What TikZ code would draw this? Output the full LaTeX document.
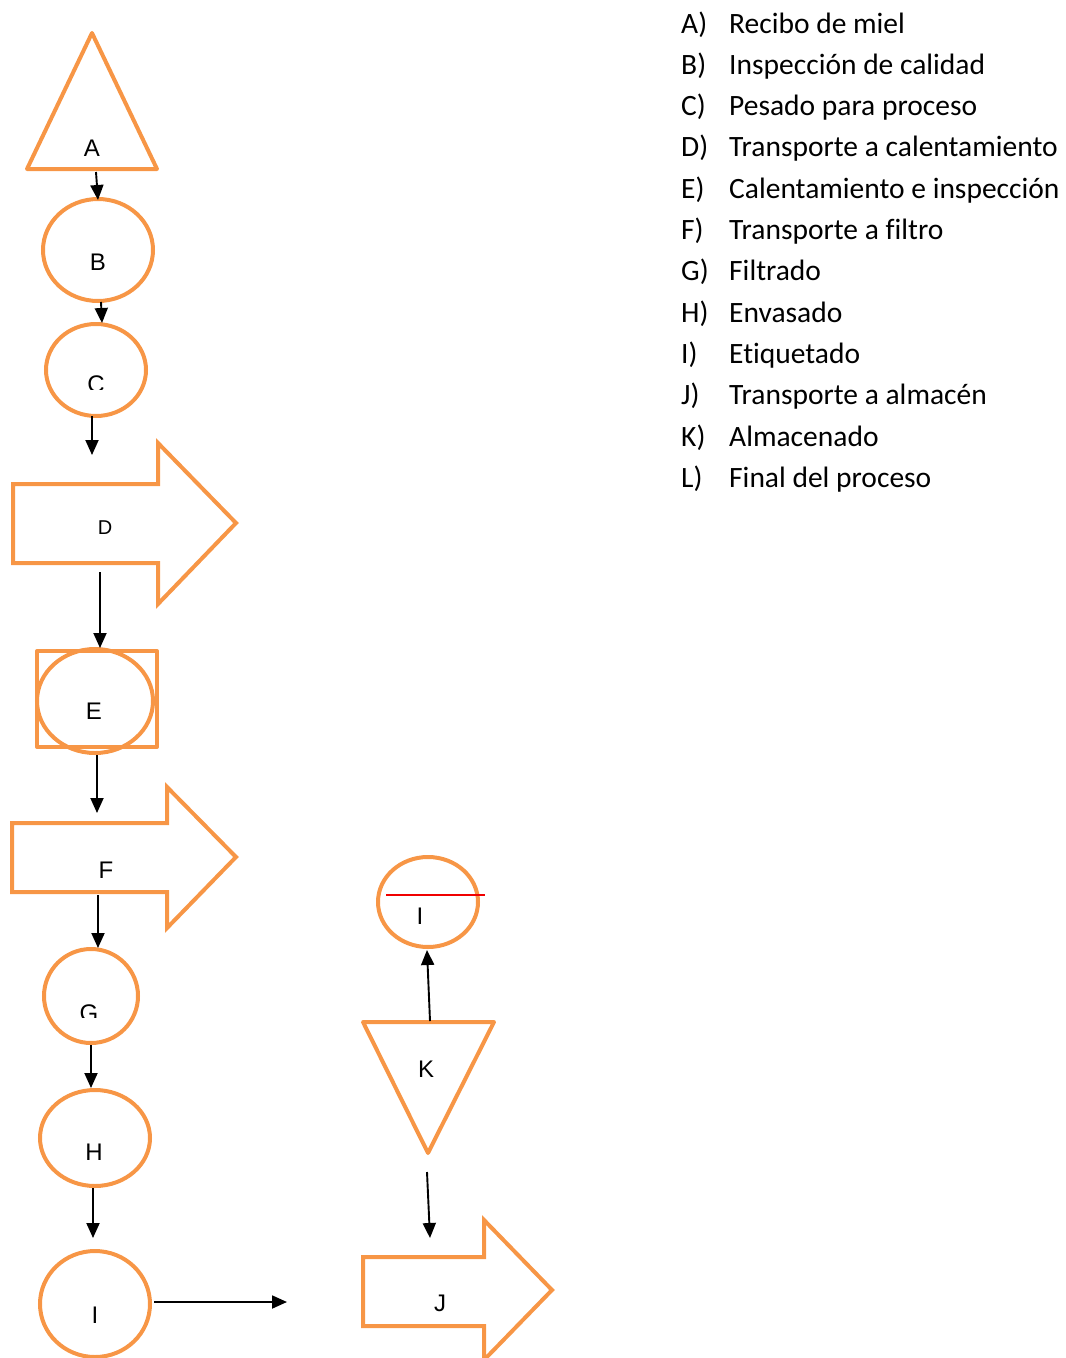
\documentclass[tikz,border=0pt]{standalone}
\usepackage{fontspec}
\setmainfont{Liberation Sans}
\newfontfamily\legendfont{Carlito}[Ligatures={NoCommon}]
\usetikzlibrary{arrows.meta,shapes.geometric}
\definecolor{orng}{RGB}{247,150,70}
\definecolor{redline}{RGB}{240,0,0}
\begin{document}
\begin{tikzpicture}[x=1pt,y=-1pt,
  shp/.style={draw=orng, line width=4pt, line join=round},
  circ/.style={ellipse, draw=orng, line width=4pt, inner sep=0pt},
  lbl/.style={font=\fontsize{24}{27}\selectfont, inner sep=0pt},
  conn/.style={draw=black, line width=1.9pt, -{Triangle[length=15pt,width=13pt]}},
  leg/.style={font=\legendfont\fontsize{29.5}{32}\selectfont, anchor=base west, inner sep=0pt}]
\useasboundingbox (0,0) rectangle (1066,1358);

% A triangle
\draw[shp] (27,169) -- (92,33) -- (157,169) -- cycle;
\node[lbl] (At) at (92,148) {A};
\coordinate (Abot) at (96,172);

% B circle
\node[circ, minimum width=110pt, minimum height=102pt] (B) at (98,250) {};
\node[lbl] (Bt) at (98,262) {B};

% C circle
\node[circ, minimum width=100pt, minimum height=92pt] (C) at (96,370) {};
\begin{scope}
  \clip (60,360) rectangle (130,389);
  \node[lbl] (Ct) at (96,384) {C};
\end{scope}
\coordinate (Cend) at (92,455);

% D block arrow
\draw[shp, line join=miter] (13,484) -- (158,484) -- (158,443) -- (236,523) -- (158,604) -- (158,563) -- (13,563) -- cycle;
\node[lbl, font=\fontsize{20}{24}\selectfont] (Dt) at (105,528) {D};
\coordinate (Dstart) at (100,572);

% E square + circle
\draw[shp] (37,651) rectangle (157,747);
\node[circ, minimum width=116pt, minimum height=104pt] (E) at (95,701) {};
\node[lbl] (Et) at (94,711) {E};

% F block arrow
\draw[shp, line join=miter] (12,823) -- (167,823) -- (167,787) -- (236,857) -- (167,928) -- (167,892) -- (12,892) -- cycle;
\node[lbl] (Ft) at (106,870) {F};
\coordinate (Ftop) at (97,813);
\coordinate (Fbot) at (98,895);

% G circle
\node[circ, minimum width=94pt, minimum height=94pt] (G) at (91,996) {};
\begin{scope}
  \clip (60,990) rectangle (130,1017);
  \node[lbl] (Gt) at (89,1013) {G};
\end{scope}

% H circle
\node[circ, minimum width=110pt, minimum height=96pt] (H) at (95,1138) {};
\node[lbl] (Ht) at (94,1152) {H};

% I circle (bottom)
\node[circ, minimum width=110pt, minimum height=106pt] (I1) at (95,1304) {};
\node[lbl] (I1t) at (95,1315) {I};
\coordinate (Iend) at (287,1302);

% J block arrow
\draw[shp, line join=miter] (363,1257) -- (484,1257) -- (484,1220) -- (552,1290) -- (484,1360) -- (484,1326) -- (363,1326) -- cycle;
\node[lbl] (Jt) at (440,1303) {J};
\coordinate (Jtop) at (430,1238);

% K inverted triangle
\draw[shp] (363,1022) -- (494,1022) -- (428,1153) -- cycle;
\node[lbl] (Kt) at (426,1069) {K};
\coordinate (Ktop) at (430,1021);
\coordinate (Kbot) at (427,1172);

% I circle (upper)
\node[circ, minimum width=100pt, minimum height=90pt] (I2) at (428,902) {};
\draw[redline, line width=1.5pt] (386,895) -- (485,895);
\node[lbl] (I2t) at (420,916) {I};

% connectors
\draw[conn] (Abot) -- (98,200);
\draw[conn] (101,302) -- (102,323);
\draw[conn] (92,416) -- (Cend);
\draw[conn] (Dstart) -- (100,648);
\draw[conn] (97,755) -- (Ftop);
\draw[conn] (Fbot) -- (98,948);
\draw[conn] (91,1045) -- (91,1088);
\draw[conn] (93,1188) -- (93,1238);
\draw[conn] (154,1302) -- (Iend);
\draw[conn] (Kbot) -- (Jtop);
\draw[conn] (Ktop) -- (427,950);

% legend
\foreach \y/\l/\t [count=\i] in {33/A)/Recibo de miel, 74.3/B)/Inspección de calidad, 115.6/C)/Pesado para proceso, 156.9/D)/Transporte a calentamiento, 198.2/E)/Calentamiento e inspección, 239.5/F)/Transporte a filtro, 280.8/G)/Filtrado, 322.1/H)/Envasado, 363.4/I)/Etiquetado, 404.7/J)/Transporte a almacén, 446/K)/Almacenado, 487.3/L)/Final del proceso} {
  \node[leg] (legl\i) at (681,\y) {\l};
  \node[leg] (legt\i) at (729,\y) {\t};
}
\end{tikzpicture}
\end{document}
